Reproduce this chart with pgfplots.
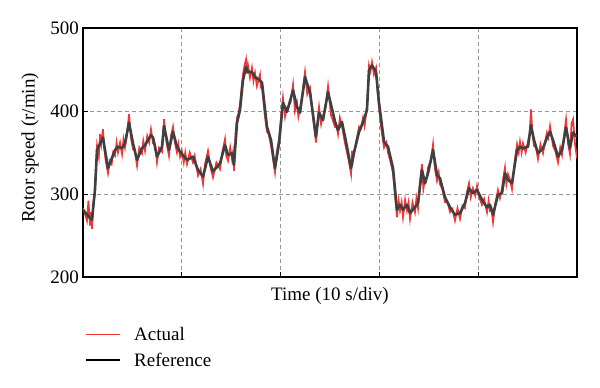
\documentclass[border=0pt]{standalone}
\usepackage{fontspec}
\setmainfont{Liberation Serif}
\usepackage{pgfplots}
\usepackage{pgfplotstable}
\pgfplotsset{compat=1.18}
\definecolor{actred}{RGB}{240,55,55}
\definecolor{refgray}{RGB}{64,64,64}
\definecolor{gridgray}{RGB}{150,150,150}

\pgfplotstableread{
t v
0 281
0.71 271
0.91 269
1.21 305
1.42 353
2.02 368
2.53 331
3.24 353
3.54 357
3.95 355
4.25 361
4.66 386
5.06 361
5.47 341
5.97 355
6.28 359
6.88 371
7.09 368
7.49 345
8.0 357
8.2 382
8.7 353
9.11 375
9.51 357
9.82 351
10.53 341
11.13 345
11.64 329
12.15 321
12.65 345
13.16 327
13.87 337
14.37 359
14.68 347
15.08 349
15.28 335
15.59 386
15.89 401
16.19 437
16.5 453
16.7 447
17.1 447
17.41 441
17.91 437
18.12 434
18.62 381
19.03 365
19.43 331
19.84 361
20.24 410
20.65 399
21.26 425
21.66 405
21.96 398
22.47 441
22.98 422
23.58 369
23.89 398
24.29 389
24.8 423
25.51 387
25.81 377
26.21 387
26.72 357
27.13 331
27.33 345
27.94 375
28.34 386
28.74 401
28.95 449
29.25 455
29.66 447
29.96 410
30.47 363
30.87 357
31.38 331
31.78 281
32.09 287
32.39 281
32.79 287
33.1 277
33.6 284
33.91 289
34.31 329
34.62 313
34.92 325
35.43 353
35.83 323
36.13 319
36.64 296
37.15 284
37.65 275
38.16 277
38.66 289
39.07 307
39.47 301
39.88 305
40.38 293
40.89 284
41.19 287
41.5 275
42.0 299
42.41 301
42.71 325
43.02 317
43.42 313
43.93 353
44.23 357
44.53 355
45.04 357
45.34 383
45.65 365
46.05 349
46.56 355
46.96 368
47.27 375
47.57 365
48.08 345
48.48 353
48.89 380
49.29 355
49.6 374
50 369
}\reftable

\pgfplotstableread{
t v
0 283
0.2 276
0.4 268
0.55 292
0.71 262
0.81 278
0.91 258
1.06 290
1.21 300
1.3 330
1.42 358
1.6 345
1.72 372
1.85 360
2.02 378
2.15 355
2.3 340
2.53 325
2.7 340
2.9 336
3.05 350
3.24 346
3.4 362
3.54 350
3.75 362
3.95 348
4.1 366
4.25 356
4.45 372
4.66 396
4.85 368
5.06 354
5.25 352
5.47 334
5.7 356
5.97 349
6.1 364
6.28 352
6.5 370
6.7 362
6.88 378
7.09 361
7.3 360
7.49 338
7.7 356
8.0 351
8.1 372
8.2 390
8.45 362
8.7 346
8.9 370
9.11 381
9.3 362
9.51 350
9.65 360
9.82 345
10.0 352
10.2 338
10.35 350
10.53 336
10.8 350
11.13 338
11.3 346
11.64 322
11.9 330
12.15 312
12.35 336
12.65 352
12.9 332
13.16 320
13.5 338
13.87 330
14.1 350
14.37 366
14.5 346
14.68 340
14.9 356
15.08 342
15.18 350
15.28 328
15.45 375
15.59 392
15.75 398
15.89 408
16.05 428
16.19 444
16.35 455
16.5 462
16.6 445
16.7 455
16.9 440
17.1 452
17.25 436
17.41 446
17.6 430
17.91 444
18.0 428
18.12 428
18.4 395
18.62 375
18.8 372
19.03 358
19.2 345
19.43 326
19.6 350
19.84 366
20.05 392
20.24 416
20.45 393
20.65 404
21.0 410
21.26 432
21.45 400
21.66 410
21.8 393
21.96 403
22.2 420
22.47 447
22.7 420
22.98 428
23.3 390
23.58 362
23.75 390
23.89 405
24.1 384
24.29 394
24.55 405
24.8 430
25.1 395
25.51 381
25.65 383
25.81 372
26.0 392
26.21 382
26.5 362
26.72 350
26.9 340
27.13 324
27.23 352
27.33 340
27.6 360
27.94 381
28.1 378
28.34 392
28.5 382
28.74 406
28.85 430
28.95 455
29.1 448
29.25 459
29.45 444
29.66 452
29.8 425
29.96 404
30.2 378
30.47 356
30.7 362
30.87 350
31.1 340
31.38 325
31.6 295
31.78 272
31.95 292
32.09 280
32.25 290
32.39 272
32.6 293
32.79 280
32.95 290
33.1 270
33.35 290
33.6 278
33.75 295
33.91 283
34.1 315
34.31 336
34.45 306
34.62 318
34.8 320
34.92 332
35.2 340
35.43 360
35.6 332
35.83 316
36.0 326
36.13 312
36.4 305
36.64 290
36.9 290
37.15 278
37.4 282
37.65 268
37.9 283
38.16 270
38.4 286
38.66 283
38.85 302
39.07 313
39.25 296
39.47 307
39.7 298
39.88 310
40.1 296
40.38 287
40.6 294
40.89 278
41.05 292
41.19 280
41.35 282
41.5 266
41.75 290
42.0 305
42.2 295
42.41 307
42.55 320
42.71 332
42.85 312
43.02 324
43.2 318
43.42 306
43.7 340
43.93 360
44.1 350
44.23 363
44.4 350
44.53 361
44.8 350
45.04 363
45.2 372
45.34 402
45.5 372
45.65 358
45.85 356
46.05 342
46.3 360
46.56 349
46.75 362
46.96 374
47.1 368
47.27 382
47.4 372
47.57 358
47.8 352
48.08 338
48.3 356
48.48 347
48.7 372
48.89 390
49.1 360
49.29 348
49.45 385
49.6 390
49.8 360
50 343
}\acttable

\begin{document}
\begin{tikzpicture}
\useasboundingbox (-83pt,-111pt) rectangle (517pt,277pt);
\begin{axis}[
  at={(0pt,0pt)}, anchor=south west,
  scale only axis, width=494pt, height=249pt,
  xmin=0, xmax=50, ymin=200, ymax=500,
  xtick={10,20,30,40}, xticklabels={},
  ytick={200,300,400,500},
  xtick pos=bottom, ytick pos=left,
  tick align=inside, major tick length=5pt,
  tick style={black, line width=1pt},
  axis line style={black, line width=1.2pt},
  grid=major,
  grid style={gridgray, dash pattern=on 4pt off 3pt, line width=0.8pt},
  font=\fontsize{19}{22}\selectfont,
  /pgf/number format/assume math mode=true,
  yticklabel style={font=\fontsize{19}{22}\selectfont, inner sep=2pt, xshift=-2pt},
  xlabel={Time (10 s/div)},
  xlabel style={at={(axis description cs:0.5,0)}, anchor=north, inner sep=0pt, yshift=-10pt},
  ylabel={Rotor speed (r/min)},
  ylabel style={at={(axis description cs:-0.1073,0.518)}, anchor=center, inner sep=0pt},
  legend style={at={(axis description cs:0,0)}, anchor=north west, xshift=2pt, yshift=-48pt,
    draw=none, fill=none, inner sep=0pt, row sep=7pt, column sep=11pt,
    font=\fontsize{19}{22}\selectfont,
    nodes={inner sep=2pt}},
  legend cell align=left,
  legend image code/.code={\draw[#1] (0pt,0pt) -- (34pt,0pt);},
]
\addplot[actred, line width=1.7pt] table[x=t,y=v] {\acttable};
\addlegendentry{Actual}
\addplot[refgray, line width=2.6pt, line join=round, forget plot] table[x=t,y=v] {\reftable};
\addlegendimage{black, line width=2pt}
\addlegendentry{Reference}
\end{axis}
\end{tikzpicture}
\end{document}
